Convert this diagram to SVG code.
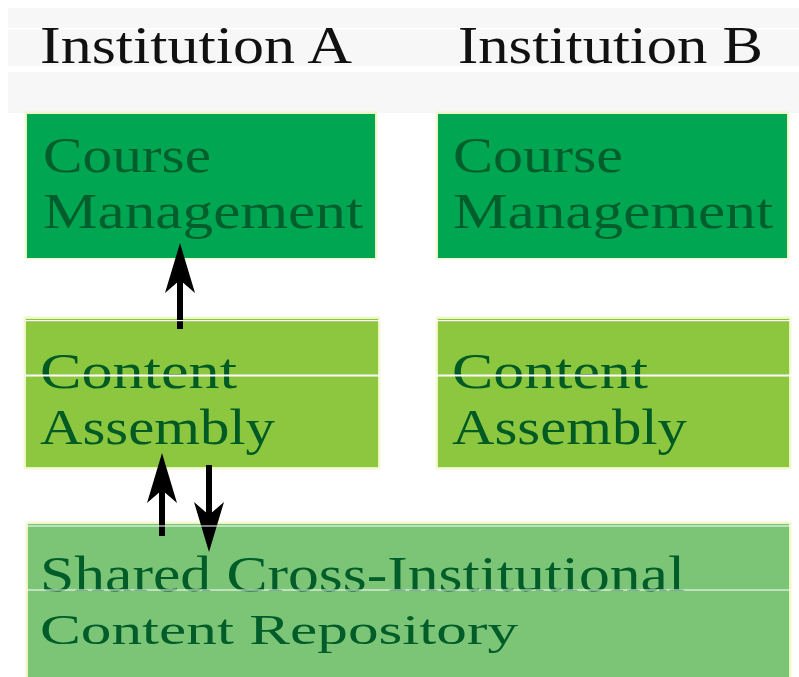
<svg xmlns="http://www.w3.org/2000/svg" width="799" height="677" viewBox="0 0 799 677">
  <style>
    .title { font-family: "Liberation Serif", "Times New Roman", serif; font-size: 52px; fill: #111111; }
    .lbl { font-family: "Liberation Serif", "Times New Roman", serif; font-size: 50px; }
    .lbl-sm { font-family: "Liberation Serif", "Times New Roman", serif; font-size: 43px; }
    .cm-box { fill: #00a651; }
    .ca-box { fill: #8dc63f; }
    .repo-box { fill: #7cc576; }
    .glow { fill: #e9f5b8; filter: url(#soft); }
    .cm-text { fill: #005e2c; }
    .ca-text { fill: #005a24; }
    .repo-text { fill: #005c28; }
    .link { stroke: #000000; stroke-width: 6; fill: none; marker-end: url(#head); }
    .seam { fill: #ffffff; }
  </style>
  <defs>
    <filter id="soft" x="-5%" y="-5%" width="110%" height="110%">
      <feGaussianBlur stdDeviation="1.2"/>
    </filter>
    <marker id="head" markerUnits="userSpaceOnUse" viewBox="0 0 50 30" refX="13" refY="15" markerWidth="50" markerHeight="30" orient="auto" overflow="visible">
      <path d="M50,15 L0,0 L13,15 L0,30 Z" fill="#000000"/>
    </marker>
  </defs>

  <rect width="799" height="677" fill="#ffffff"/>

  <!-- header band -->
  <g id="header">
    <rect x="8" y="8" width="791" height="105" fill="#f7f7f7"/>
    <rect class="seam" x="8" y="28" width="791" height="1.5"/>
    <rect class="seam" x="8" y="66" width="791" height="6"/>
    <text class="title" x="40" y="63" textLength="312" lengthAdjust="spacingAndGlyphs">Institution A</text>
    <text class="title" x="458" y="63" textLength="305" lengthAdjust="spacingAndGlyphs">Institution B</text>
  </g>

  <!-- Institution A -->
  <g id="course-management-a">
    <rect class="glow" x="25" y="112" width="352" height="147"/>
    <rect class="cm-box" x="27" y="114" width="348" height="144"/>
    <text class="lbl cm-text" x="43" y="172" textLength="168" lengthAdjust="spacingAndGlyphs">Course</text>
    <text class="lbl cm-text" x="43" y="228" textLength="320" lengthAdjust="spacingAndGlyphs">Management</text>
  </g>

  <g id="content-assembly-a">
    <rect class="glow" x="24" y="317" width="356" height="152"/>
    <rect class="ca-box" x="26" y="319" width="352" height="148"/>
    <text class="lbl ca-text" x="40" y="388" textLength="197" lengthAdjust="spacingAndGlyphs">Content</text>
    <text class="lbl ca-text" x="40" y="444" textLength="235" lengthAdjust="spacingAndGlyphs">Assembly</text>
  </g>

  <!-- Institution B -->
  <g id="course-management-b">
    <rect class="glow" x="436" y="112" width="353" height="147"/>
    <rect class="cm-box" x="438" y="114" width="349" height="144"/>
    <text class="lbl cm-text" x="453" y="172" textLength="170" lengthAdjust="spacingAndGlyphs">Course</text>
    <text class="lbl cm-text" x="453" y="228" textLength="320" lengthAdjust="spacingAndGlyphs">Management</text>
  </g>

  <g id="content-assembly-b">
    <rect class="glow" x="436" y="317" width="355" height="152"/>
    <rect class="ca-box" x="438" y="319" width="351" height="148"/>
    <text class="lbl ca-text" x="452" y="388" textLength="196" lengthAdjust="spacingAndGlyphs">Content</text>
    <text class="lbl ca-text" x="452" y="444" textLength="235" lengthAdjust="spacingAndGlyphs">Assembly</text>
  </g>

  <!-- Shared repository -->
  <g id="shared-repository">
    <rect class="glow" x="26" y="522" width="765" height="160"/>
    <rect class="repo-box" x="28" y="524" width="761" height="160"/>
    <text class="lbl repo-text" x="40" y="591" textLength="645" lengthAdjust="spacingAndGlyphs">Shared Cross-Institutional</text>
    <text class="lbl-sm repo-text" x="40" y="644" textLength="478" lengthAdjust="spacingAndGlyphs">Content Repository</text>
  </g>

  <!-- connectors -->
  <g id="connectors">
    <line class="link" x1="180" y1="329" x2="180" y2="280"/>
    <line class="link" x1="162" y1="536" x2="162" y2="490"/>
    <line class="link" x1="209" y1="465" x2="209" y2="515"/>
  </g>

  <!-- thin light seams across the lower rows -->
  <g id="seams">
    <rect class="seam" x="25" y="320" width="774" height="1.2"/>
    <rect class="seam" x="25" y="374.5" width="774" height="2"/>
    <rect class="seam" x="27" y="525.5" width="772" height="1"/>
    <rect class="seam" x="27" y="589.5" width="772" height="1"/>
  </g>
</svg>
